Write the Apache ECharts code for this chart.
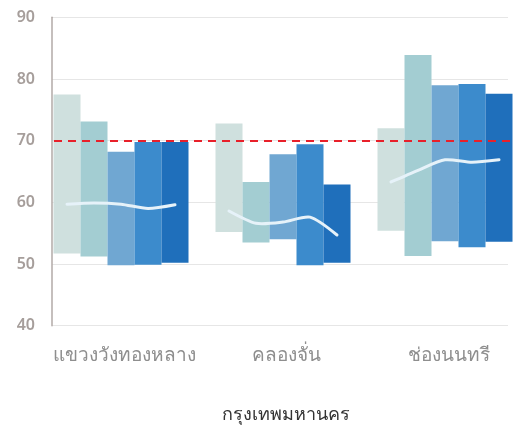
<!DOCTYPE html>
<html>
<head>
<meta charset="utf-8">
<script src="https://cdn.jsdelivr.net/npm/echarts@6/dist/echarts.min.js"></script>
<style>
  html, body { margin: 0; padding: 0; background: #fff; }
  #chart { width: 516px; height: 430px; }
</style>
</head>
<body>
<div id="chart"></div>
<script>
// Districts on the x axis
const categories = ['แขวงวังทองหลาง', 'คลองจั่น', 'ช่องนนทรี'];
const yTicks = [40, 50, 60, 70, 80, 90];
const threshold = 70;

// Range of each of the five bars per district (low / high)
const low1 = [51.7, 55.2, 55.4];
const high1 = [77.5, 72.8, 72.0];
const low2 = [51.2, 53.5, 51.3];
const high2 = [73.1, 63.3, 83.9];
const low3 = [49.8, 54.0, 53.7];
const high3 = [68.2, 67.8, 79.0];
const low4 = [49.9, 49.8, 52.7];
const high4 = [69.8, 69.4, 79.2];
const low5 = [50.2, 50.2, 53.6];
const high5 = [69.8, 62.9, 77.6];

// Average value through the five bars of each district
const avg1 = [59.7, 59.9, 59.7, 59.0, 59.6];
const avg2 = [58.6, 56.6, 56.8, 57.6, 54.7];
const avg3 = [63.3, 65.2, 66.9, 66.5, 66.9];

const lows = [low1, low2, low3, low4, low5];
const highs = [high1, high2, high3, high4, high5];
const avgs = [avg1, avg2, avg3];
const colors = ['#cfe0de', '#a3cdd2', '#70a7d2', '#3c8bcc', '#1f6fbb'];
const BAR_W = 27;
const FONT = '"Noto Sans", "DejaVu Sans", sans-serif';

const chart = echarts.init(document.getElementById('chart'));

const series = [];
lows.forEach((lo, i) => {
  series.push({
    type: 'bar', xAxisIndex: 1, yAxisIndex: 1, stack: 's' + i,
    data: lo, barWidth: BAR_W, barGap: '0%', silent: true,
    itemStyle: { color: 'transparent' }
  });
  series.push({
    type: 'bar', xAxisIndex: 1, yAxisIndex: 1, stack: 's' + i,
    data: highs[i].map((h, k) => +(h - lo[k]).toFixed(2)),
    barWidth: BAR_W, barGap: '0%',
    itemStyle: { color: colors[i] }
  });
});

// Average line drawn across the bar centres of each group
series.push({
  type: 'custom', xAxisIndex: 1, yAxisIndex: 1, z: 5,
  data: avgs.map((a, k) => [k].concat(a)),
  encode: { x: 0, y: [1, 2, 3, 4, 5] },
  renderItem: function (params, api) {
    const cat = api.value(0);
    const pts = [];
    for (let i = 0; i < 5; i++) {
      const p = api.coord([cat, api.value(i + 1)]);
      pts.push([p[0] + (i - 2) * BAR_W, p[1]]);
    }
    return {
      type: 'polyline',
      shape: { points: pts, smooth: 0.25 },
      style: { stroke: '#e6f2f9', lineWidth: 3, fill: null, lineCap: 'round' }
    };
  }
});

// Threshold reference line
series.push({
  type: 'line', xAxisIndex: 2, yAxisIndex: 2, data: [],
  markLine: {
    silent: true, symbol: 'none', label: { show: false },
    lineStyle: { color: '#e8202a', type: [8, 6], width: 2 },
    data: [{ yAxis: threshold }]
  }
});

const yBase = { type: 'value', min: yTicks[0], max: yTicks[yTicks.length - 1], interval: 10 };

chart.setOption({
  animation: false,
  backgroundColor: '#ffffff',
  title: {
    text: 'กรุงเทพมหานคร', left: 217, top: 401,
    textStyle: { fontSize: 18, fontWeight: 'normal', color: '#333333', fontFamily: FONT }
  },
  grid: [
    { left: 52, right: 8, top: 17.3, bottom: 104.3, outerBoundsMode: 'none' },
    { left: 40, width: 486, top: 17.3, bottom: 104.3, outerBoundsMode: 'none' },
    { left: 54, right: 0, top: 17.3, bottom: 104.3, outerBoundsMode: 'none' }
  ],
  xAxis: [
    { gridIndex: 0, type: 'value', min: 0, max: 1, show: false },
    {
      gridIndex: 1, type: 'category', data: categories,
      axisLine: { show: false }, axisTick: { show: false },
      axisLabel: {
        interval: 0, color: '#8e8e8e', fontSize: 19, margin: 20,
        fontFamily: FONT, padding: [0, 0, 0, 7]
      }
    },
    { gridIndex: 2, type: 'value', min: 0, max: 1, show: false }
  ],
  yAxis: [
    Object.assign({}, yBase, {
      gridIndex: 0,
      axisLine: { show: true, lineStyle: { color: '#b2aaa7', width: 1.5 } },
      axisTick: { show: false },
      axisLabel: { color: '#a69e9b', fontSize: 16, fontWeight: 600, margin: 17, fontFamily: FONT },
      splitLine: { show: true, lineStyle: { color: '#e6e6e6', width: 1 } }
    }),
    Object.assign({}, yBase, { gridIndex: 1, show: false, splitLine: { show: false } }),
    Object.assign({}, yBase, { gridIndex: 2, show: false, splitLine: { show: false } })
  ],
  series: series
});
</script>
</body>
</html>
